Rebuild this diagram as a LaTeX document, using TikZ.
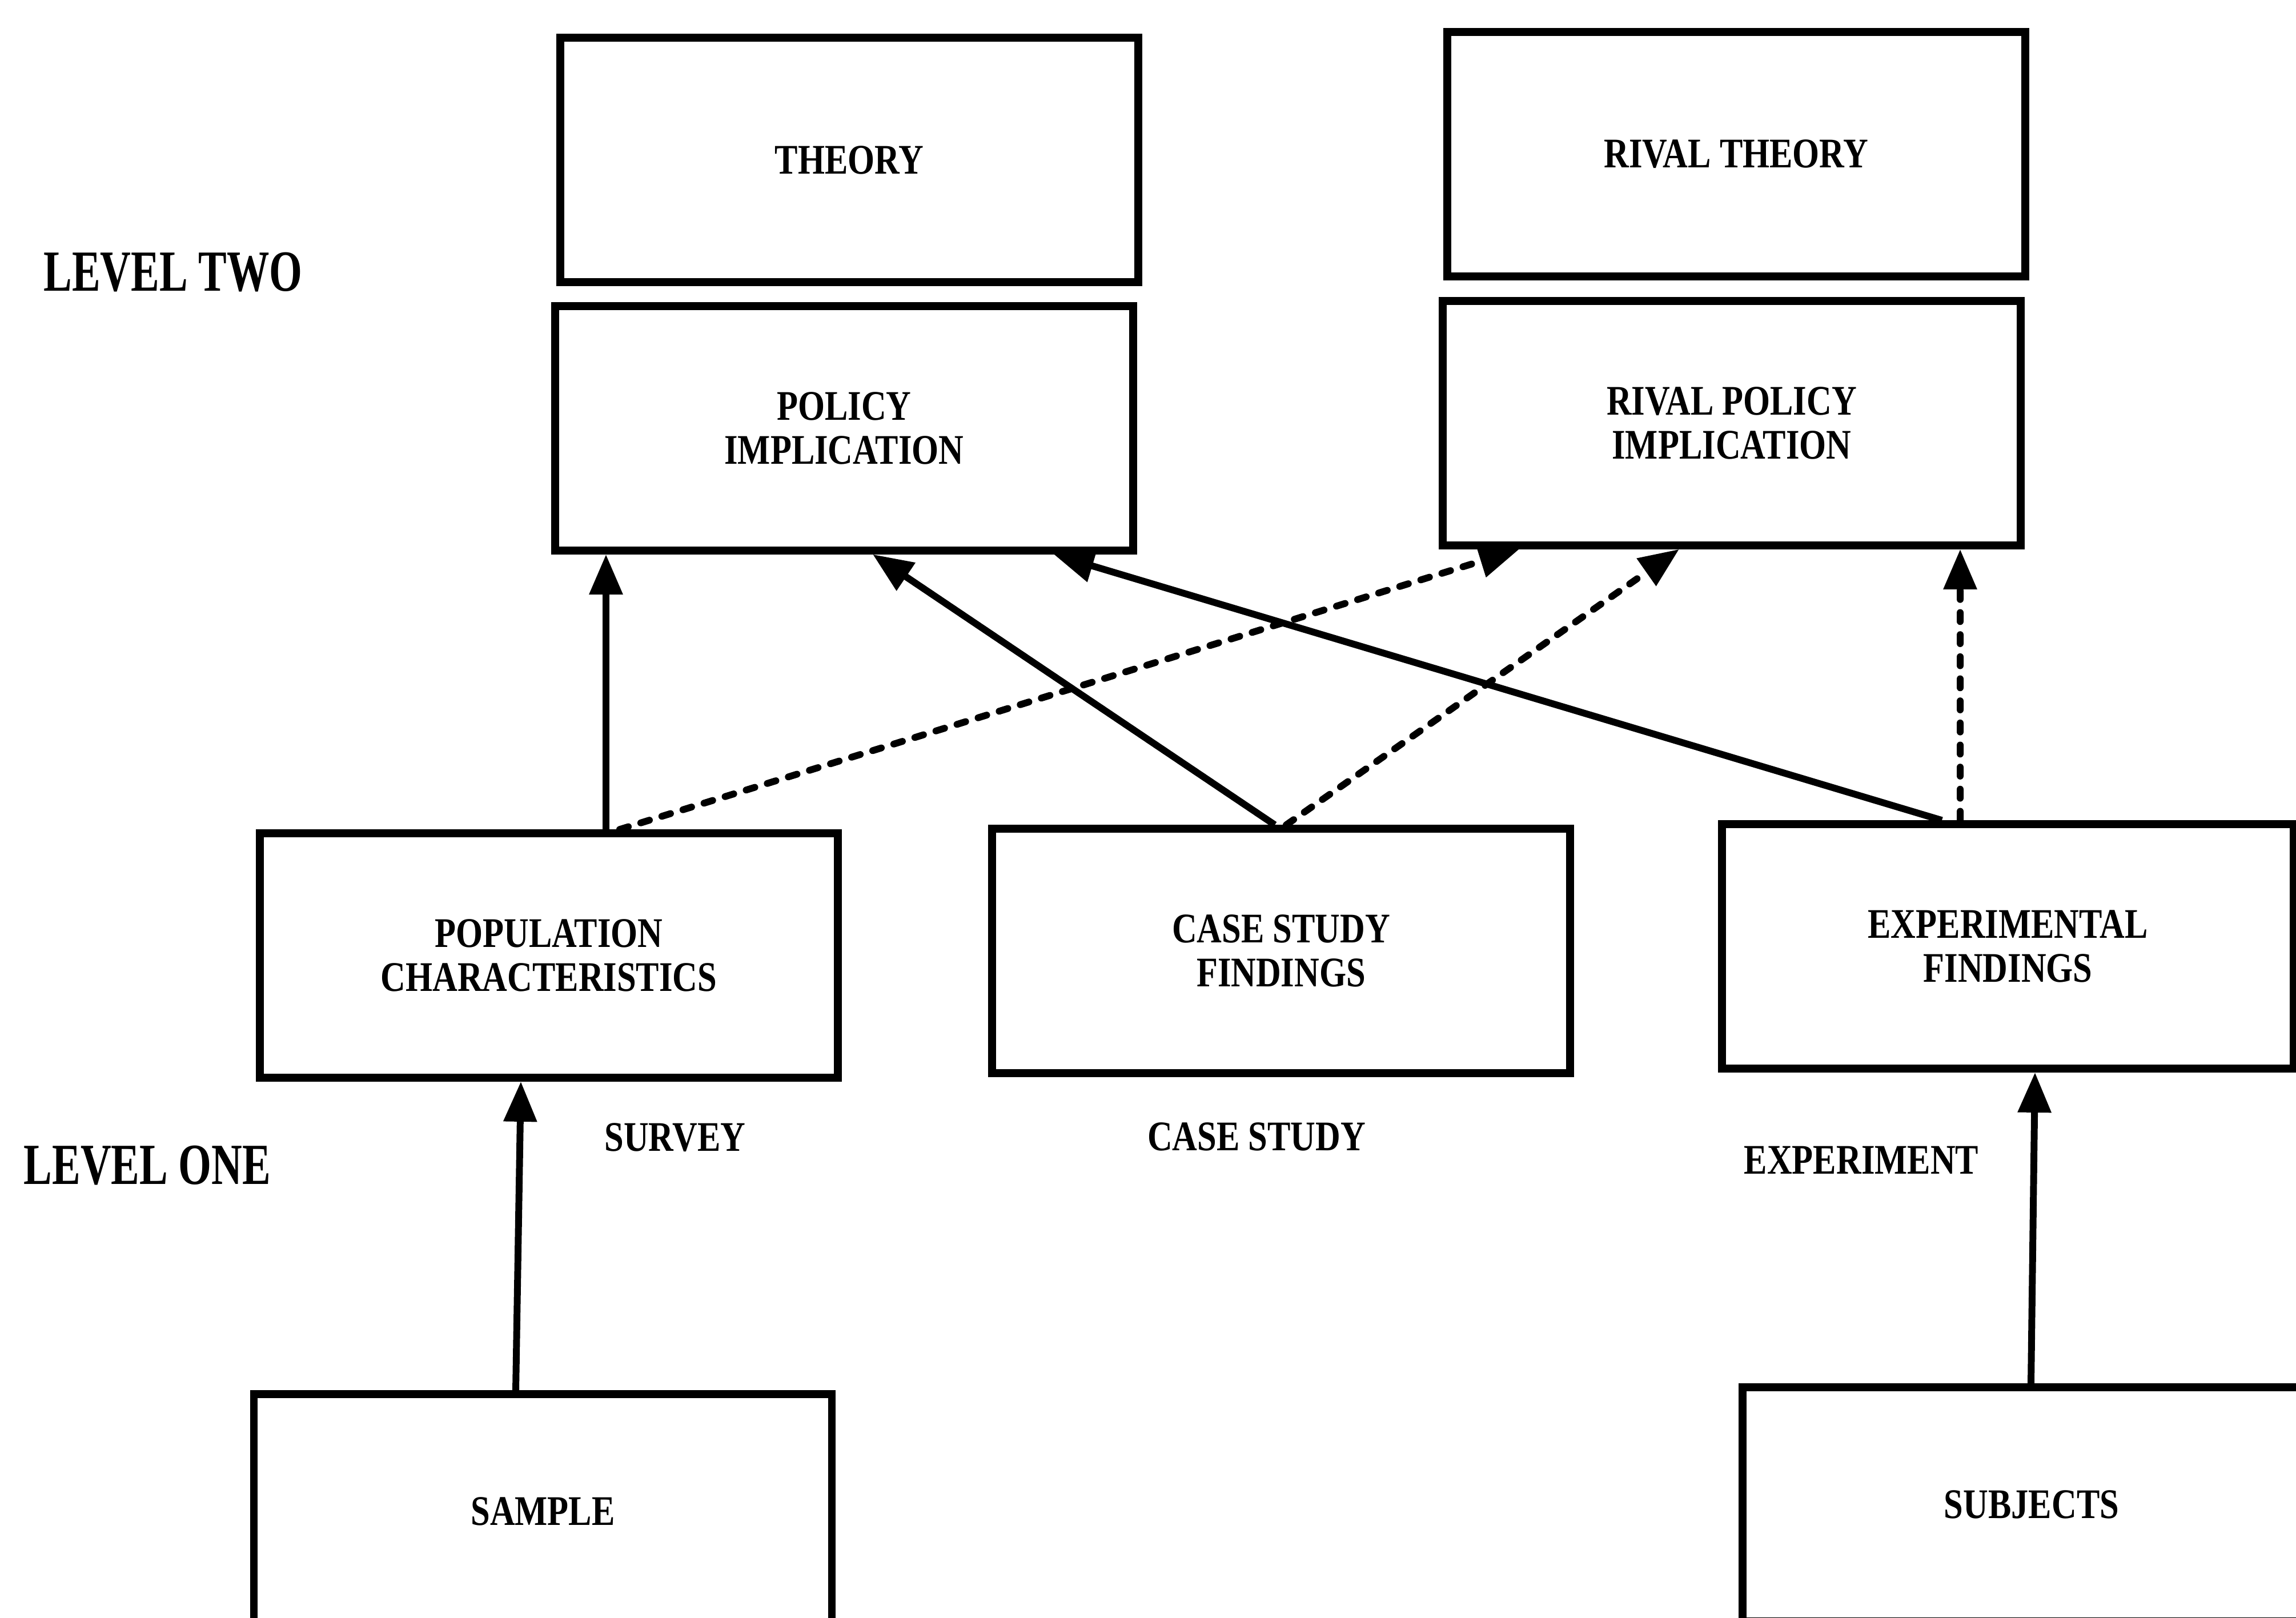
\documentclass[tikz,border=0pt]{standalone}
\usepackage{fontspec}
\setmainfont{Liberation Serif}[FakeStretch=0.82]
\newfontfamily\levelfont{Liberation Serif}[FakeStretch=0.73]
\usetikzlibrary{arrows.meta}

\begin{document}
\begin{tikzpicture}[
  box/.style={draw, line width=3.8pt, inner sep=0pt,
    minimum width=10.12cm, minimum height=4.28cm, align=center,
    font=\fontsize{21}{22}\selectfont\bfseries},
  leveltext/.style={inner sep=0pt, font=\levelfont\fontsize{29}{30}\selectfont\bfseries},
  methodtext/.style={inner sep=0pt, font=\fontsize{21}{22}\selectfont\bfseries},
  link/.style={line width=3.4pt, -{Triangle[length=20pt,width=16pt]}},
  rivallink/.style={link, dash pattern=on 4.5pt off 6.5pt, line cap=round},
]
% page frame
\fill[white] (0,0) rectangle (40.20,28.33);
\path[use as bounding box, clip] (0,0) rectangle (40.20,28.33);

% level two
\node[box] (theory)  at (14.87,25.53) {THEORY};
\node[box] (rtheory) at (30.40,25.63) {RIVAL THEORY};
\node[box] (policy)  at (14.78,20.83) {POLICY\\IMPLICATION};
\node[box] (rpolicy) at (30.32,20.92) {RIVAL POLICY\\IMPLICATION};

% level one
\node[box] (pop)  at (9.61,11.60)  {POPULATION\\CHARACTERISTICS};
\node[box] (case) at (22.43,11.68) {CASE STUDY\\FINDINGS};
\node[box, minimum width=10.01cm] (exp) at (35.155,11.76) {EXPERIMENTAL\\FINDINGS};

% raw material
\node[box, minimum height=4.10cm] (sample)   at (9.505,1.87) {SAMPLE};
\node[box, minimum height=4.10cm] (subjects) at (35.57,1.99) {SUBJECTS};

% side and method labels
\node[leveltext] (lvtwo) at (3.03,23.56) {LEVEL TWO};
\node[leveltext] (lvone) at (2.58,7.92)  {LEVEL ONE};
\node[methodtext] (survey)   at (11.82,8.41) {SURVEY};
\node[methodtext] (casestudy) at (22.00,8.43) {CASE STUDY};
\node[methodtext] (experiment) at (32.59,8.02) {EXPERIMENT};

% supporting links
\draw[link] ([xshift=1.00cm]pop.north) -- ([xshift=-4.17cm]policy.south);
\draw[link] ([xshift=-0.11cm]case.north) -- ([xshift=0.50cm]policy.south);
\draw[link] ([xshift=-1.155cm]exp.north) -- ([xshift=3.67cm]policy.south);

% rival links
\draw[rivallink] ([xshift=1.24cm]pop.north) -- ([xshift=-3.72cm]rpolicy.south);
\draw[rivallink] ([xshift=0.09cm]case.north) -- ([xshift=-0.92cm]rpolicy.south);
\draw[rivallink] ([xshift=-0.835cm]exp.north) -- ([xshift=4.00cm]rpolicy.south);

% from data to findings
\draw[link] ([xshift=-0.475cm]sample.north) -- ([xshift=-0.49cm]pop.south);
\draw[link] ([xshift=-0.01cm]subjects.north) -- ([xshift=0.475cm]exp.south);
\end{tikzpicture}
\end{document}
